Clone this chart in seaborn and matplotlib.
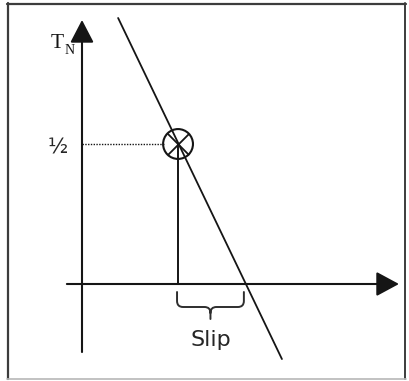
import numpy as np
import pandas as pd
import seaborn as sns
import matplotlib
matplotlib.use("Agg")
import matplotlib.pyplot as plt
from matplotlib.path import Path
from matplotlib.patches import PathPatch
from matplotlib.lines import Line2D

# ---- data (normalised slip / torque units) ----
torque_line_slip = [0.129, 0.714]      # characteristic line, slip values
torque_line_torque = [0.95, -0.268]    # characteristic line, torque values
op_slip = [0.343]                      # operating point slip
op_torque = [0.5]                      # operating point torque (T_N = 1/2)
slip_axis = [-0.054, 1.132]            # x-axis extent
torque_axis = [-0.243, 0.943]          # y-axis extent
tick_labels = ["½"]
axis_label_y = ("T", "N")
brace_label = "Slip"

# slip at zero torque (where the characteristic crosses the slip axis)
zero_slip = float(np.interp(0.0, torque_line_torque[::-1], torque_line_slip[::-1]))

sns.set_theme(style="white")
W, H, DPI = 409, 381, 100
fig = plt.figure(figsize=(W / DPI, H / DPI), dpi=DPI)
fig.patch.set_facecolor("white")
ax = fig.add_axes([0, 0, 1, 1])
PX = 280.0  # pixels per unit
ax.set_xlim(-82 / PX, (W - 82) / PX)
ax.set_ylim((284 - H) / PX, 284 / PX)
ax.set_axis_off()

ink = "#151515"

# axes with arrow heads
ax.annotate("", xy=(slip_axis[1], 0), xytext=(slip_axis[0], 0),
            arrowprops=dict(arrowstyle="-|>,head_length=0.5,head_width=0.27",
                            mutation_scale=28, color=ink, lw=1.5,
                            shrinkA=0, shrinkB=0))
ax.annotate("", xy=(0, torque_axis[1]), xytext=(0, torque_axis[0]),
            arrowprops=dict(arrowstyle="-|>,head_length=0.5,head_width=0.26",
                            mutation_scale=28, color=ink, lw=1.5,
                            shrinkA=0, shrinkB=0))

# characteristic line
df = pd.DataFrame({"slip": torque_line_slip, "torque": torque_line_torque})
sns.lineplot(data=df, x="slip", y="torque", ax=ax, color=ink, lw=1.3)

# dotted guide to the torque axis and vertical drop to slip axis
r_pt = 14.5 / PX
ax.plot([0, op_slip[0] - r_pt], [op_torque[0], op_torque[0]], color=ink, lw=1.0,
        linestyle=(0, (1, 1)))
ax.plot([op_slip[0], op_slip[0]], [0, op_torque[0]], color=ink, lw=1.4)

# operating point marker ⊗
sns.scatterplot(x=op_slip, y=op_torque, ax=ax, marker="o", s=21.5 ** 2,
                facecolor="none", edgecolor=ink, linewidth=1.5, zorder=5)
sns.scatterplot(x=op_slip, y=op_torque, ax=ax, marker="x", s=15.5 ** 2,
                color=ink, linewidth=1.3, zorder=5)

# brace under slip
xl, xr = op_slip[0] - 1 / PX, zero_slip - 2 / PX
xc = (xl + xr) / 2
yt, yh, ytip = -8 / PX, -23 / PX, -35 / PX
r = 6 / PX
verts = [(xl, yt), (xl, yh + r), (xl, yh), (xl + r, yh), (xc - r, yh), (xc, yh),
         (xc, yh - r), (xc, ytip),
         (xc, yh - r), (xc, yh), (xc + r, yh), (xr - r, yh), (xr, yh), (xr, yh + r),
         (xr, yt)]
codes = [Path.MOVETO, Path.LINETO, Path.CURVE3, Path.CURVE3, Path.LINETO, Path.CURVE3,
         Path.CURVE3, Path.LINETO,
         Path.MOVETO, Path.CURVE3, Path.CURVE3, Path.LINETO, Path.CURVE3, Path.CURVE3,
         Path.LINETO]
ax.add_patch(PathPatch(Path(verts, codes), facecolor="none", edgecolor="#2e2e2e",
                       lw=1.4, capstyle="round", joinstyle="round"))

ax.text(xc, -56 / PX, brace_label, ha="center", va="center", fontsize=16,
        color="#262626", family="DejaVu Sans")

# labels
ax.text(-24 / PX, op_torque[0] - 4 / PX, tick_labels[0], ha="center", va="center",
        fontsize=15, color="#262626", family="DejaVu Sans")
ax.text(-25 / PX, 241 / PX, axis_label_y[0], ha="center", va="center",
        fontsize=15.5, color=ink, family="Liberation Serif")
ax.text(-12 / PX, 233 / PX, axis_label_y[1], ha="center", va="center",
        fontsize=10, color=ink, family="Liberation Serif")

# frame border
def fl(x0, y0, x1, y1, c, lw):
    fig.add_artist(Line2D([x0 / W, x1 / W], [1 - y0 / H, 1 - y1 / H],
                          transform=fig.transFigure, color=c, lw=lw))
fl(7, 4, 406, 4, "#3c3c3c", 1.6)
fl(8, 3, 8, 379, "#3c3c3c", 1.6)
fl(405, 3, 405, 379, "#3c3c3c", 1.4)
fl(7, 379, 406, 379, "#b8b8b8", 1.2)

fig.savefig("out.png", dpi=DPI, facecolor="white")
